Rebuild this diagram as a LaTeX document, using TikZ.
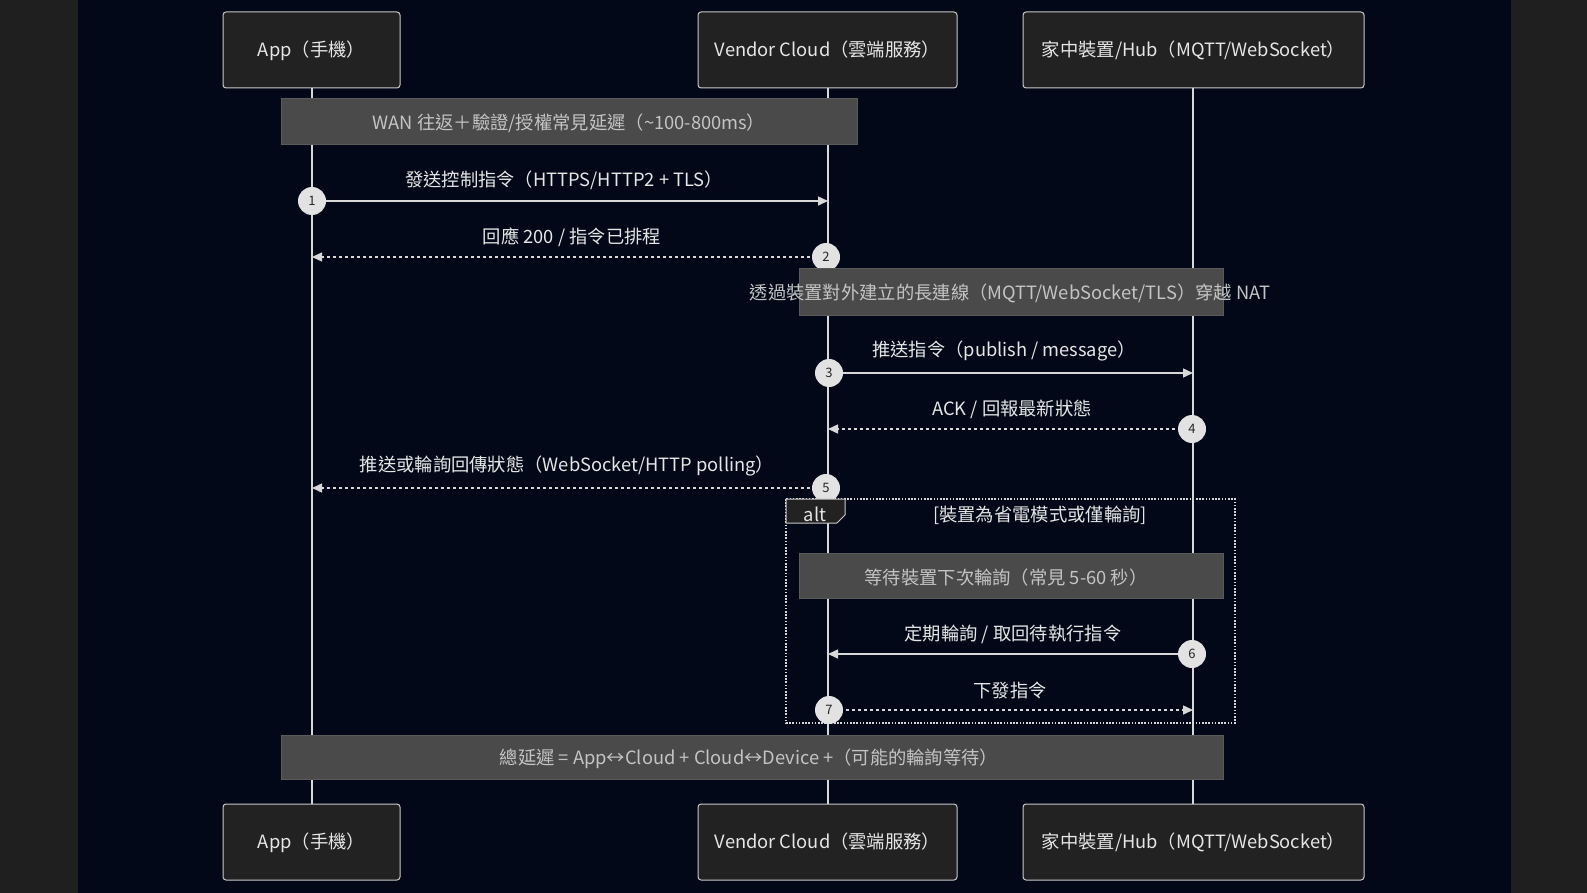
\documentclass[tikz,border=0pt]{standalone}
\usepackage{fontspec}
\setmainfont{Noto Sans CJK TC}
\usetikzlibrary{arrows.meta}
\definecolor{navy}{HTML}{020817}
\definecolor{outer}{HTML}{1F1F1F}
\definecolor{boxfill}{HTML}{222222}
\definecolor{boxline}{HTML}{C8C8C8}
\definecolor{notefill}{HTML}{4A4A4A}
\definecolor{noteline}{HTML}{5A5A5A}
\definecolor{notetext}{HTML}{C4C4C4}
\definecolor{linecol}{HTML}{D8D8D8}
\definecolor{txt}{HTML}{E6E6E6}
\definecolor{circfill}{HTML}{E2E2E2}
\begin{document}
\begin{tikzpicture}[x=1pt,y=-1pt,
  actor/.style={draw=boxline,fill=boxfill,rounded corners=3pt,line width=1pt,text=txt,font=\fontsize{18.3}{20}\selectfont,inner sep=0pt,text depth=0pt,text height=13pt},
  notebox/.style={draw=noteline,fill=notefill,line width=1pt},
  notetxt/.style={text=notetext,font=\fontsize{18.3}{20}\selectfont,inner sep=0pt,yshift=-1.5pt},
  msgtxt/.style={text=txt,font=\fontsize{18.3}{20}\selectfont,inner sep=0pt,yshift=-1.5pt},
  life/.style={draw=linecol,line width=1.4pt},
  msg/.style={draw=linecol,line width=1.4pt,-{Triangle[length=10pt,width=9pt]}},
  reply/.style={msg,dash pattern=on 3pt off 3pt},
  num/.style={circle,fill=circfill,draw=none,minimum size=28pt,inner sep=0pt,text=black!85,font=\fontsize{13}{14}\selectfont},
]
\useasboundingbox (0,0) rectangle (1587,893);
\fill[outer] (0,0) rectangle (1587,893);
\fill[navy] (78,0) rectangle (1511,893);

% coordinates
\coordinate (aTop) at (312,88); \coordinate (aBot) at (312,804);
\coordinate (vTop) at (828,88); \coordinate (vBot) at (828,804);
\coordinate (hTop) at (1193,88); \coordinate (hBot) at (1193,804);

% lifelines
\draw[life] (aTop) -- (aBot);
\draw[life] (vTop) -- (vBot);
\draw[life] (hTop) -- (hBot);

% actors top
\node[actor,minimum width=177pt,minimum height=76pt] (appT) at (311.5,50) {App（手機）};
\node[actor,minimum width=259pt,minimum height=76pt] (venT) at (827.5,50) {Vendor Cloud（雲端服務）};
\node[actor,minimum width=341pt,minimum height=76pt] (hubT) at (1193.5,50) {家中裝置/Hub（MQTT/WebSocket）};
% actors bottom
\node[actor,minimum width=177pt,minimum height=76pt] (appB) at (311.5,842) {App（手機）};
\node[actor,minimum width=259pt,minimum height=76pt] (venB) at (827.5,842) {Vendor Cloud（雲端服務）};
\node[actor,minimum width=341pt,minimum height=76pt] (hubB) at (1193.5,842) {家中裝置/Hub（MQTT/WebSocket）};

% note 1
\draw[notebox] (281,99) rectangle (857,145);
\node[notetxt] (n1) at (569,122) {WAN 往返＋驗證/授權常見延遲（{\char`\~}100-800ms）};

% message 1
\coordinate (m1a) at (312,201); \coordinate (m1b) at (828,201);
\draw[msg] (m1a) -- (m1b);
\node[msgtxt] (l1) at (564,179) {發送控制指令（HTTPS/HTTP2 + TLS）};
\node[num] (c1) at (m1a) {1};

% message 2
\coordinate (m2a) at (828,257); \coordinate (m2b) at (312,257);
\draw[reply] (m2a) -- (m2b);
\node[msgtxt] (l2) at (572,236) {回應 200 / 指令已排程};
\node[num] (c2) at (826,257) {2};

% note 2
\draw[notebox] (799,269) rectangle (1223,315);
\node[notetxt] (n2) at (1010,292) {透過裝置對外建立的長連線（MQTT/WebSocket/TLS）穿越 NAT};

% message 3
\coordinate (m3a) at (828,373); \coordinate (m3b) at (1193,373);
\draw[msg] (m3a) -- (m3b);
\node[msgtxt] (l3) at (1004,349) {推送指令（publish / message）};
\node[num] (c3) at (829,373) {3};

% message 4
\coordinate (m4a) at (1193,429); \coordinate (m4b) at (828,429);
\draw[reply] (m4a) -- (m4b);
\node[msgtxt] (l4) at (1012,408) {ACK / 回報最新狀態};
\node[num] (c4) at (1192,429) {4};

% message 5
\coordinate (m5a) at (828,488); \coordinate (m5b) at (312,488);
\draw[reply] (m5a) -- (m5b);
\node[msgtxt] (l5) at (567,464) {推送或輪詢回傳狀態（WebSocket/HTTP polling）};
\node[num] (c5) at (826,488) {5};

% alt frame
\draw[linecol,line width=1.4pt,dash pattern=on 1.6pt off 1.6pt] (786,499) rectangle (1235,723);
\draw[boxline,fill=boxfill,line width=1pt] (786,499) -- (845,499) -- (845,515) -- (837,523) -- (786,523) -- cycle;
\node[msgtxt] (alt) at (815,513) {alt};
\node[msgtxt] (guard) at (1040,514) {[裝置為省電模式或僅輪詢]};

% note 3
\draw[notebox] (799,553) rectangle (1223,598);
\node[notetxt] (n3) at (1006,576) {等待裝置下次輪詢（常見 5-60 秒）};

% message 6
\coordinate (m6a) at (1193,654); \coordinate (m6b) at (828,654);
\draw[msg] (m6a) -- (m6b);
\node[msgtxt] (l6) at (1013,633) {定期輪詢 / 取回待執行指令};
\node[num] (c6) at (1192,654) {6};

% message 7
\coordinate (m7a) at (828,710); \coordinate (m7b) at (1193,710);
\draw[reply] (m7a) -- (m7b);
\node[msgtxt] (l7) at (1010,689) {下發指令};
\node[num] (c7) at (829,710) {7};

% note 4
\draw[notebox] (281,735) rectangle (1223,779);
\node[notetxt] (n4) at (749,757) {總延遲 = App↔Cloud + Cloud↔Device +（可能的輪詢等待）};

\end{tikzpicture}
\end{document}
